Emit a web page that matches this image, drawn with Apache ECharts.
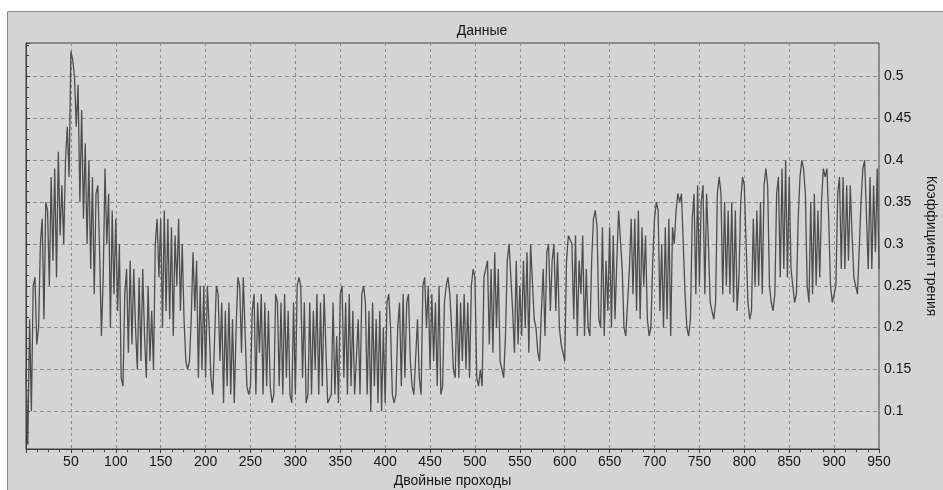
<!DOCTYPE html>
<html>
<head>
<meta charset="utf-8">
<script src="https://cdn.jsdelivr.net/npm/echarts@6/dist/echarts.min.js"></script>
<style>
  html, body { margin: 0; padding: 0; background: #ffffff; }
  #container { width: 943px; height: 490px; }
</style>
</head>
<body>
<div id="container"></div>
<script>
(function (window) {
  'use strict';

  // friction coefficient, one reading every passStep double passes (0 .. 950)
  var passStep = 2;
  var frictionCoef = [
    // 0 - 50
    0.15, 0.06, 0.21, 0.10, 0.25, 0.26, 0.18, 0.20, 0.30, 0.33, 0.21, 0.35, 0.34,
    0.25, 0.38, 0.28, 0.39, 0.26, 0.41, 0.31, 0.37, 0.30, 0.40, 0.44, 0.38, 0.53,
    // 52 - 100
    0.52, 0.50, 0.44, 0.49, 0.35, 0.46, 0.33, 0.42, 0.30, 0.40, 0.27, 0.38, 0.24,
    0.36, 0.37, 0.29, 0.19, 0.26, 0.39, 0.30, 0.36, 0.20, 0.34, 0.24, 0.33,
    // 102 - 150
    0.22, 0.30, 0.14, 0.13, 0.24, 0.27, 0.17, 0.28, 0.18, 0.27, 0.20, 0.15, 0.26,
    0.16, 0.27, 0.19, 0.14, 0.25, 0.16, 0.22, 0.15, 0.30, 0.33, 0.26, 0.33,
    // 152 - 200
    0.20, 0.34, 0.22, 0.33, 0.21, 0.32, 0.19, 0.31, 0.25, 0.33, 0.22, 0.30, 0.21,
    0.16, 0.15, 0.16, 0.21, 0.29, 0.22, 0.28, 0.14, 0.25, 0.15, 0.25, 0.14,
    // 202 - 250
    0.25, 0.20, 0.14, 0.12, 0.12, 0.25, 0.24, 0.16, 0.23, 0.11, 0.22, 0.13, 0.23,
    0.12, 0.21, 0.11, 0.20, 0.26, 0.25, 0.17, 0.26, 0.26, 0.13, 0.12, 0.13,
    // 252 - 300
    0.22, 0.24, 0.12, 0.23, 0.17, 0.24, 0.12, 0.23, 0.13, 0.22, 0.13, 0.11, 0.12,
    0.24, 0.23, 0.13, 0.23, 0.12, 0.24, 0.14, 0.22, 0.12, 0.11, 0.23, 0.12,
    // 302 - 350
    0.25, 0.26, 0.25, 0.14, 0.23, 0.11, 0.12, 0.23, 0.12, 0.22, 0.15, 0.24, 0.12,
    0.23, 0.13, 0.24, 0.24, 0.11, 0.11, 0.12, 0.23, 0.12, 0.19, 0.11, 0.24,
    // 352 - 400
    0.25, 0.14, 0.23, 0.12, 0.24, 0.13, 0.22, 0.12, 0.12, 0.21, 0.12, 0.24, 0.25,
    0.23, 0.12, 0.22, 0.10, 0.23, 0.13, 0.21, 0.11, 0.22, 0.10, 0.20, 0.11,
    // 402 - 450
    0.23, 0.24, 0.20, 0.12, 0.11, 0.12, 0.20, 0.23, 0.13, 0.24, 0.14, 0.23, 0.24,
    0.16, 0.13, 0.12, 0.12, 0.21, 0.14, 0.12, 0.25, 0.26, 0.20, 0.25, 0.15,
    // 452 - 500
    0.24, 0.16, 0.23, 0.13, 0.25, 0.12, 0.13, 0.23, 0.25, 0.26, 0.24, 0.20, 0.15,
    0.14, 0.24, 0.14, 0.23, 0.16, 0.24, 0.15, 0.23, 0.14, 0.25, 0.27, 0.26,
    // 502 - 550
    0.14, 0.13, 0.15, 0.13, 0.26, 0.27, 0.28, 0.18, 0.27, 0.17, 0.29, 0.20, 0.27,
    0.16, 0.15, 0.14, 0.19, 0.28, 0.30, 0.30, 0.22, 0.17, 0.28, 0.18, 0.25,
    // 552 - 600
    0.19, 0.28, 0.20, 0.29, 0.17, 0.30, 0.30, 0.21, 0.20, 0.17, 0.16, 0.22, 0.27,
    0.19, 0.29, 0.30, 0.22, 0.28, 0.30, 0.22, 0.29, 0.20, 0.18, 0.17, 0.16,
    // 602 - 650
    0.28, 0.31, 0.31, 0.30, 0.21, 0.31, 0.19, 0.28, 0.24, 0.31, 0.19, 0.27, 0.20,
    0.19, 0.28, 0.33, 0.34, 0.32, 0.21, 0.20, 0.32, 0.19, 0.28, 0.22, 0.32,
    // 652 - 700
    0.20, 0.31, 0.21, 0.28, 0.34, 0.34, 0.27, 0.20, 0.19, 0.19, 0.27, 0.33, 0.24,
    0.33, 0.22, 0.34, 0.21, 0.32, 0.25, 0.31, 0.21, 0.19, 0.20, 0.28, 0.33,
    // 702 - 750
    0.35, 0.34, 0.22, 0.30, 0.20, 0.32, 0.21, 0.33, 0.19, 0.32, 0.30, 0.34, 0.36,
    0.35, 0.36, 0.30, 0.24, 0.20, 0.19, 0.21, 0.33, 0.36, 0.24, 0.37, 0.25,
    // 752 - 800
    0.35, 0.37, 0.24, 0.36, 0.30, 0.23, 0.22, 0.21, 0.23, 0.36, 0.38, 0.36, 0.24,
    0.35, 0.25, 0.34, 0.24, 0.35, 0.23, 0.34, 0.22, 0.26, 0.35, 0.38, 0.37,
    // 802 - 850
    0.30, 0.23, 0.21, 0.22, 0.33, 0.25, 0.34, 0.25, 0.35, 0.24, 0.37, 0.39, 0.37,
    0.25, 0.23, 0.22, 0.24, 0.36, 0.38, 0.26, 0.39, 0.27, 0.40, 0.26, 0.38,
    // 852 - 900
    0.27, 0.25, 0.23, 0.24, 0.33, 0.38, 0.40, 0.39, 0.36, 0.25, 0.23, 0.35, 0.24,
    0.36, 0.25, 0.34, 0.26, 0.35, 0.39, 0.38, 0.39, 0.33, 0.25, 0.23, 0.23,
    // 902 - 950
    0.25, 0.36, 0.38, 0.27, 0.38, 0.27, 0.37, 0.28, 0.37, 0.31, 0.26, 0.25, 0.24,
    0.24, 0.35, 0.39, 0.40, 0.40, 0.27, 0.38, 0.27, 0.37, 0.29, 0.39, 0.27
  ];

  var passRange = [0, 950];
  var passLabelStep = 50;
  var coefRange = [0.055, 0.54];

  var titleText = 'Данные';
  var xName = 'Двойные проходы';
  var yName = 'Коэффициент трения';

  var font = 'Liberation Sans, Arial, sans-serif';
  var textColor = '#151515';
  var frameColor = '#3c3c3c';
  var gridColor = '#8e8e8e';

  var dom = document.getElementById('container');
  var chart = echarts.init(dom, null, { renderer: 'canvas' });

  var points = frictionCoef.map(function (v, i) {
    return [i * passStep, v];
  });

  var option = {
    backgroundColor: '#ffffff',
    animation: false,
    graphic: [
      {
        type: 'rect',
        z: -10,
        silent: true,
        shape: { x: 7.5, y: 11.5, width: 940, height: 484 },
        style: { fill: '#d4d4d4', stroke: '#8a8a8a', lineWidth: 1 }
      },
      {
        type: 'text',
        silent: true,
        x: 482,
        y: 31,
        style: {
          text: titleText,
          font: '14px ' + font,
          fill: textColor,
          align: 'center',
          verticalAlign: 'middle'
        }
      }
    ],
    grid: {
      left: 26,
      right: 64,
      top: 43,
      bottom: 41,
      outerBoundsMode: 'none',
      show: true,
      backgroundColor: 'transparent',
      borderColor: frameColor,
      borderWidth: 1
    },
    xAxis: {
      type: 'value',
      min: passRange[0],
      max: passRange[1],
      interval: passLabelStep,
      name: xName,
      nameLocation: 'middle',
      nameGap: 25,
      nameTextStyle: { color: textColor, fontSize: 14, fontFamily: font },
      axisLine: { show: true, lineStyle: { color: frameColor, width: 1 } },
      axisTick: { show: true, length: 4, lineStyle: { color: frameColor } },
      minorTick: { show: true, splitNumber: 4, length: 3, lineStyle: { color: frameColor } },
      axisLabel: {
        showMinLabel: false,
        color: textColor,
        fontSize: 14,
        fontFamily: font,
        margin: 6
      },
      splitLine: { show: true, lineStyle: { color: gridColor, width: 1, type: [3, 3] } }
    },
    yAxis: {
      type: 'value',
      position: 'right',
      min: coefRange[0],
      max: coefRange[1],
      splitNumber: 10,
      name: yName,
      nameLocation: 'middle',
      nameRotate: -90,
      nameGap: 45,
      nameTextStyle: { color: textColor, fontSize: 14, fontFamily: font },
      axisLine: { show: true, lineStyle: { color: frameColor, width: 1 } },
      axisTick: { show: true, length: 4, lineStyle: { color: frameColor } },
      minorTick: { show: true, splitNumber: 4, length: 3, lineStyle: { color: frameColor } },
      axisLabel: {
        showMinLabel: false,
        showMaxLabel: false,
        color: textColor,
        fontSize: 14,
        fontFamily: font,
        margin: 5
      },
      splitLine: { show: true, lineStyle: { color: gridColor, width: 1, type: [4, 3] } }
    },
    series: [
      {
        type: 'line',
        data: points,
        showSymbol: false,
        symbol: 'none',
        clip: true,
        lineStyle: { color: '#4e4e4e', width: 1.3 }
      }
    ]
  };

  chart.setOption(option, true);

  window.addEventListener('resize', function () {
    chart.resize();
  });
})(window);
</script>
</body>
</html>
